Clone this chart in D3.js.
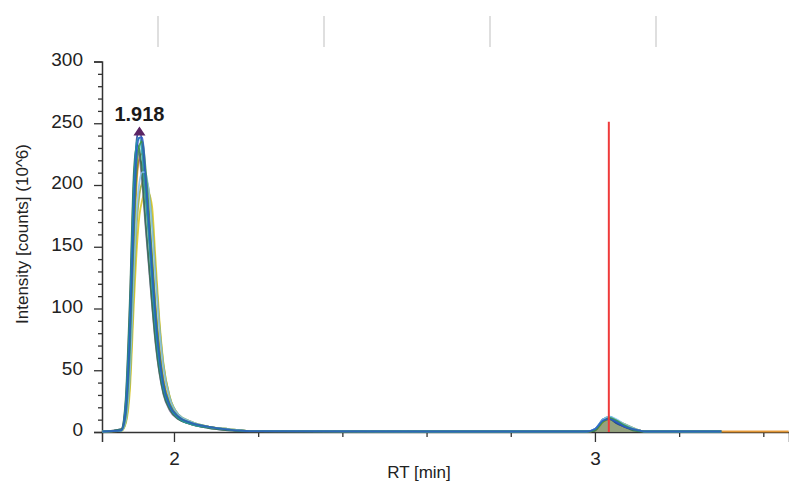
<!DOCTYPE html>
<html>
<head>
<meta charset="utf-8">
<script src="https://cdn.jsdelivr.net/npm/d3@7"></script>
<style>
  html, body { margin: 0; padding: 0; background: #fff; }
  svg { display: block; font-family: "Liberation Sans", Arial, sans-serif; }
</style>
</head>
<body>
<svg id="chart" width="789" height="481"></svg>
<script>
// ---------- DATA ----------
const rt = [1.83, 1.875, 1.885, 1.895, 1.905, 1.912, 1.918, 1.925, 1.932, 1.94, 1.948, 1.956, 1.965, 1.975, 1.99, 2.01, 2.04, 2.08, 2.13, 2.18, 2.60, 2.98, 3.00, 3.02, 3.035, 3.05, 3.07, 3.09, 3.12, 3.30, 3.46];

const traceOrange  = [0, 1, 10, 55, 150, 205, 222, 225, 208, 178, 142, 104, 70, 43, 23, 13, 7, 4, 1.5, 0.3, 0, 0, 1, 8, 10, 8, 5, 2, 0, 0, 0];
const traceYellow  = [0, 0.5, 6, 32, 105, 150, 175, 188, 195, 193, 182, 140, 92, 55, 28, 14, 8, 4, 2, 0.5, 0, 0, 1, 8, 10, 9, 6, 3, 0, 0, null];
const traceOlive   = [0, 0.5, 7, 40, 120, 170, 192, 202, 205, 196, 170, 130, 88, 54, 28, 14, 8, 4, 2, 0.5, 0, 0, 1, 9, 11, 9, 6, 3, 0, 0, null];
const traceLtBlue  = [0, 0.5, 8, 45, 130, 182, 202, 210, 210, 195, 165, 125, 85, 52, 27, 14, 8, 4, 2, 0.5, 0, 0, 2, 10, 12, 10, 6, 3, 0, 0, null];
const traceBrown   = [0, 1, 14, 70, 170, 210, 220, 215, 192, 160, 124, 90, 60, 37, 20, 11, 6, 3.5, 1.5, 0.3, 0, 0, 1, 8, 10, 8, 4, 2, 0, 0, null];
const tracePurple  = [0, 2, 22, 98, 205, 228, 222, 200, 168, 135, 102, 72, 48, 30, 17, 10, 6, 3, 1, 0.2, 0, 0, 1, 9, 11, 8, 4, 2, 0, 0, null];
const traceDkGreen = [0, 2, 25, 105, 212, 232, 228, 205, 172, 138, 104, 74, 49, 31, 18, 10, 6, 3, 1, 0.2, 0, 0, 1, 9, 10, 7, 4, 1, 0, 0, null];
const traceGreen   = [0, 1, 12, 65, 165, 218, 232, 235, 215, 180, 140, 100, 66, 40, 22, 12, 7, 4, 1.5, 0.3, 0, 0, 1, 8, 11, 9, 5, 2, 0, 0, null];
const traceTeal    = [0, 1, 20, 90, 200, 235, 238, 222, 192, 158, 120, 85, 56, 35, 20, 11, 6, 3.5, 1.5, 0.3, 0, 0, 2, 10, 12, 9, 5, 2, 0, 0, null];
const traceBlue    = [0, 1, 15, 75, 180, 228, 238, 238, 210, 172, 132, 94, 62, 38, 21, 12, 7, 4, 1.5, 0.3, 0, 0, 2, 9, 10, 8, 4, 2, 0, 0, null];
const traceNavy    = [0, 1, 18, 85, 195, 238, 245, 230, 200, 165, 125, 88, 58, 36, 20, 12, 7, 4, 1.5, 0.3, 0, 0, 1, 10, 11, 7, 4, 2, 0, 0, null];

const traces = [
  { name: "orange",  values: traceOrange,  color: "#e8901e" },
  { name: "yellow",  values: traceYellow,  color: "#d8c41c" },
  { name: "olive",   values: traceOlive,   color: "#9aac34" },
  { name: "brown",   values: traceBrown,   color: "#a07838" },
  { name: "purple",  values: tracePurple,  color: "#7a6a9a" },
  { name: "dkgreen", values: traceDkGreen, color: "#2e6e4e" },
  { name: "navy",    values: traceNavy,    color: "#24409e" },
  { name: "teal",    values: traceTeal,    color: "#22a0a8" },
  { name: "ltblue",  values: traceLtBlue,  color: "#7fbfee" },
  { name: "green",   values: traceGreen,   color: "#3c9a3c" },
  { name: "blue",    values: traceBlue,    color: "#2a5cc8" }
];

// integrated area of the small peak
const areaRt   = [2.99, 3.00, 3.02, 3.035, 3.05, 3.07, 3.09, 3.115];
const areaVals = [0, 2, 10, 12, 10, 6, 3, 0];

const apexRt = 1.918, apexValue = 245, apexLabel = "1.918";
const markerRt = 3.033, markerTop = 250;

const xMajorTicks = [2, 3];
const xMinorTicks = [2.2, 2.4, 2.6, 2.8, 3.2, 3.4];
const yMajorTicks = [0, 50, 100, 150, 200, 250, 300];
const yMinorTicks = [10, 20, 30, 40, 60, 70, 80, 90, 110, 120, 130, 140, 160, 170, 180, 190, 210, 220, 230, 240, 260, 270, 280, 290];

const xTitle = "RT [min]";
const yTitle = "Intensity [counts] (10^6)";

// ---------- LAYOUT ----------
const svg = d3.select("#chart");
const mLeft = 102, mRight = 789, mTop = 61.5, mBottom = 432;
const x = d3.scaleLinear().domain([1.829, 3.461]).range([mLeft, mRight]);
const y = d3.scaleLinear().domain([0, 300]).range([mBottom, mTop]);

// faint separators at top
[158, 324, 490, 656].forEach(px => {
  svg.append("line").attr("x1", px).attr("x2", px).attr("y1", 16).attr("y2", 47)
     .attr("stroke", "#d4d4d4").attr("stroke-width", 1.5);
});

// ---------- AXES (drawn first, traces go on top) ----------
const axisColor = "#333";
const yAxis = svg.append("g").attr("transform", `translate(${mLeft},0)`);
yAxis.call(d3.axisLeft(y).tickValues(yMajorTicks).tickSize(8).tickPadding(11).tickFormat(d3.format("d")));
const yMinor = yAxis.append("g").call(d3.axisLeft(y).tickValues(yMinorTicks).tickSize(4).tickFormat(""));
yMinor.select(".domain").remove();
yAxis.selectAll(".domain").attr("stroke", axisColor).attr("stroke-width", 1.5);
yAxis.selectAll(".tick line").attr("stroke", axisColor).attr("stroke-width", 1.3);
yAxis.selectAll("text").attr("font-size", 19).attr("fill", "#222")
  .attr("font-family", "Liberation Sans, Arial, sans-serif").attr("dy", "0.2em");

const xAxis = svg.append("g").attr("transform", `translate(0,${mBottom})`);
xAxis.call(d3.axisBottom(x).tickValues(xMajorTicks).tickSize(10).tickPadding(10).tickFormat(d3.format("d")));
const xMinor = xAxis.append("g").call(d3.axisBottom(x).tickValues(xMinorTicks).tickSize(5).tickFormat(""));
xMinor.select(".domain").remove();
xAxis.selectAll(".domain").attr("stroke", axisColor).attr("stroke-width", 1.5);
xAxis.selectAll(".tick line").attr("stroke", axisColor).attr("stroke-width", 1.3);
xAxis.selectAll("text").attr("font-size", 19).attr("fill", "#222")
  .attr("font-family", "Liberation Sans, Arial, sans-serif");

const plot = svg.append("g");

// area fill
plot.append("path")
  .datum(areaRt.map((r, i) => [r, areaVals[i]]))
  .attr("d", d3.area().x(d => x(d[0])).y0(y(0)).y1(d => y(d[1])))
  .attr("fill", "#8a9870").attr("opacity", 0.9);

// traces
const line = d3.line()
  .defined(d => d[1] != null)
  .x(d => x(d[0])).y(d => y(d[1]) - 0.5)
  .curve(d3.curveMonotoneX);

traces.forEach(t => {
  plot.append("path")
    .datum(rt.map((r, i) => [r, t.values[i]]))
    .attr("d", line)
    .attr("fill", "none")
    .attr("stroke", t.color)
    .attr("stroke-width", 1.8)
    .attr("stroke-linejoin", "round")
    .attr("opacity", 0.85);
});

// red marker line
plot.append("line")
  .attr("x1", x(markerRt)).attr("x2", x(markerRt))
  .attr("y1", y(markerTop) - 1.5).attr("y2", y(0))
  .attr("stroke", "#ef3a3a").attr("stroke-width", 2);

// apex marker
const ax = x(apexRt), ay = y(apexValue);
plot.append("path")
  .attr("d", `M${ax},${ay - 3} L${ax + 6},${ay + 6} L${ax - 6},${ay + 6} Z`)
  .attr("fill", "#5b2463");
svg.append("text")
  .attr("x", ax).attr("y", ay - 8)
  .attr("text-anchor", "middle")
  .attr("font-size", 20).attr("font-weight", "bold").attr("fill", "#1a1a1a")
  .text(apexLabel);

// titles
svg.append("text")
  .attr("x", 419).attr("y", 478)
  .attr("text-anchor", "middle").attr("font-size", 17).attr("fill", "#222")
  .text(xTitle);
svg.append("text")
  .attr("transform", `translate(28,234) rotate(-90)`)
  .attr("text-anchor", "middle").attr("font-size", 17).attr("fill", "#222")
  .text(yTitle);
</script>
</body>
</html>
